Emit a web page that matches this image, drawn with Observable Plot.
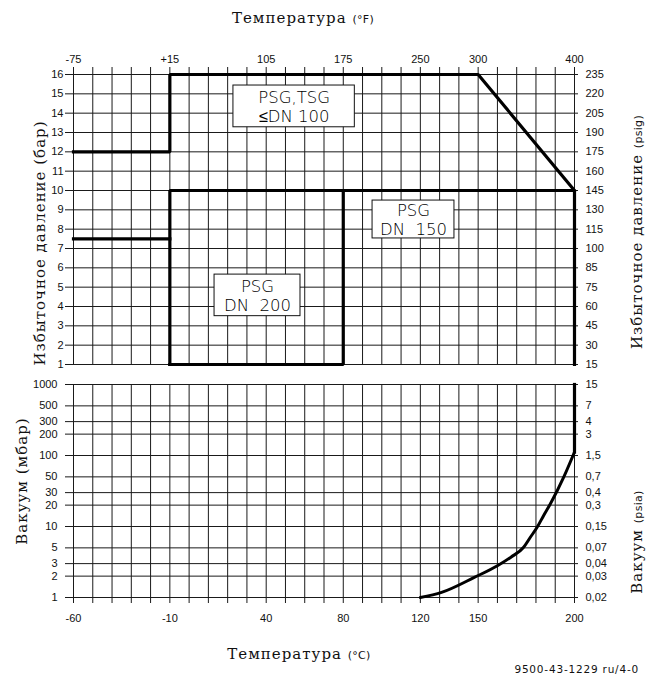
<!DOCTYPE html>
<html>
<head>
<meta charset="utf-8">
<script src="https://cdn.jsdelivr.net/npm/d3@7"></script>
<script src="https://cdn.jsdelivr.net/npm/@observablehq/plot@0.6"></script>
<style>
  html, body { margin: 0; padding: 0; background: #fff; }
  #wrap { position: relative; width: 647px; height: 677px; overflow: hidden; background: #fff; }
  #wrap svg { position: absolute; left: 0; }
  .ttl { position: absolute; white-space: nowrap; font-family: "DejaVu Serif", serif; font-size: 15px; color: #111; letter-spacing: 1px; }
  .ttl .u { font-family: "DejaVu Sans", sans-serif; font-size: 11px; letter-spacing: 0.3px; }
  .rot { transform: translate(-50%, -50%) rotate(-90deg); }
  .hor { transform: translate(-50%, -50%); }
  #code { position: absolute; right: 8px; top: 663px; line-height: 12px; font-family: "DejaVu Sans", sans-serif; font-size: 10.5px; letter-spacing: 0.8px; color: #111; }
</style>
</head>
<body>
<div id="wrap">
  <div class="ttl hor" style="left:303px; top:18px;">Температура <span class="u">(°F)</span></div>
  <div class="ttl hor" style="left:299px; top:654px;">Температура <span class="u">(°C)</span></div>
  <div class="ttl rot" style="left:40px; top:243px;">Избыточное давление (бар)</div>
  <div class="ttl rot" style="left:637px; top:232px;">Избыточное давление <span class="u">(psig)</span></div>
  <div class="ttl rot" style="left:22px; top:481px;">Вакуум (мбар)</div>
  <div class="ttl rot" style="left:637px; top:542px;">Вакуум <span class="u">(psia)</span></div>
  <div id="code">9500-43-1229 ru/4-0</div>
</div>
<script>
// ---- data ----
const gridTempsC = [-60,-50,-40,-30,-20,-10,0,10,20,30,40,50,60,70,80,90,100,110,120,130,140,150,160,170,180,190,200];
const cLabelTemps = [-60,-10,40,80,120,150,200];
const cLabels = ["-60","-10","40","80","120","150","200"];
const fLabelTemps = [-60,-10,40,80,120,150,200];
const fLabels = ["-75","+15","105","175","250","300","400"];

const barTicks = [1,2,3,4,5,6,7,8,9,10,11,12,13,14,15,16];
const psigLabels = ["15","30","45","60","75","85","100","115","130","145","160","175","190","205","220","235"];

const mbarTicks = [1,2,3,5,10,20,30,50,100,200,300,500,1000];
const mbarLabels = ["1","2","3","5","10","20","30","50","100","200","300","500","1000"];
const psiaLabels = ["0,02","0,03","0,04","0,07","0,15","0,3","0,4","0,7","1,5","3","4","7","15"];

// limit lines (°C, bar)
const dn100Temp = [-60,-10,-10,150,200];
const dn100Bar  = [12,12,16,16,10];
const lowTemp   = [-60,-10];
const lowBar    = [7.5,7.5];
const dn150Temp = [-10,-10,200,200];
const dn150Bar  = [1,10,10,1];
const dn200Temp = [-10,80,80];
const dn200Bar  = [1,1,10];

// vacuum limit (°C, mbar)
const vacTemp = [120,131,148,160,167,173.6,177,180.6,184,187.5,194.4,200];
const vacMbar = [1,1.18,1.92,2.8,3.7,5.1,7,9.75,14.3,20.9,49.5,112];
const vacWallTemp = [200,200];
const vacWallMbar = [112,1000];

// label boxes (data units)
const boxText = ["PSG,TSG\n≤DN 100", "PSG\nDN  150", "PSG\nDN  200"];
const boxX1 = [23, 95.2, 13.2];
const boxX2 = [86, 137.7, 57.8];
const boxY1 = [13.27, 7.52, 3.5];
const boxY2 = [15.43, 9.48, 5.65];

// ---- build ----
const toXY = (xs, ys) => xs.map((x, i) => ({x, y: ys[i]}));
const boxes = boxText.map((t, i) => ({t, x1: boxX1[i], x2: boxX2[i], y1: boxY1[i], y2: boxY2[i]}));

const gridColor = "#1a1a1a";
const tickFont = "'Liberation Sans', Arial, sans-serif";
const heavy = {stroke: "#000", strokeWidth: 3.2, strokeLinejoin: "miter", strokeLinecap: "square"};

const fMap = new Map(fLabelTemps.map((d, i) => [d, fLabels[i]]));
const cMap = new Map(cLabelTemps.map((d, i) => [d, cLabels[i]]));

const topChart = Plot.plot({
  width: 647, height: 380,
  marginTop: 74, marginBottom: 16, marginLeft: 73, marginRight: 73,
  x: {domain: [-60, 200]},
  y: {domain: [1, 16]},
  style: {fontFamily: tickFont, fontSize: "11px", color: "#111", background: "transparent", overflow: "visible"},
  marks: [
    Plot.ruleX(gridTempsC, {y1: 1, y2: 16, stroke: gridColor, strokeWidth: 1}),
    Plot.ruleY(barTicks, {x1: -60, x2: 200, stroke: gridColor, strokeWidth: 1}),
    Plot.axisX(gridTempsC, {anchor: "top", tickSize: 8, tickPadding: 4, tickFormat: d => fMap.get(d) ?? "", stroke: gridColor, label: null}),
    Plot.axisY(barTicks, {anchor: "left", tickSize: 8, tickPadding: 2, stroke: gridColor, label: null, tickFormat: d => String(d)}),
    Plot.axisY(barTicks, {anchor: "right", tickSize: 3, tickPadding: 8, stroke: gridColor, label: null, tickFormat: d => psigLabels[barTicks.indexOf(d)]}),
    Plot.line(toXY(dn100Temp, dn100Bar), {x: "x", y: "y", ...heavy}),
    Plot.line(toXY(lowTemp, lowBar), {x: "x", y: "y", ...heavy}),
    Plot.line(toXY(dn150Temp, dn150Bar), {x: "x", y: "y", ...heavy}),
    Plot.line(toXY(dn200Temp, dn200Bar), {x: "x", y: "y", ...heavy}),
    Plot.rect(boxes, {x1: "x1", x2: "x2", y1: "y1", y2: "y2", fill: "#fff", stroke: "#111", strokeWidth: 1}),
    Plot.text(boxes, {x: d => (d.x1 + d.x2) / 2, y: d => (d.y1 + d.y2) / 2, text: "t", fontSize: 16.5, lineHeight: 1.15, fill: "#000", fontFamily: "'DejaVu Sans', sans-serif", fontWeight: 200})
  ]
});
topChart.style.top = "0px";

const bottomChart = Plot.plot({
  width: 647, height: 270,
  marginTop: 14, marginBottom: 43, marginLeft: 73, marginRight: 73,
  x: {domain: [-60, 200]},
  y: {type: "log", domain: [1, 1000]},
  style: {fontFamily: tickFont, fontSize: "11px", color: "#111", background: "transparent", overflow: "visible"},
  marks: [
    Plot.ruleX(gridTempsC, {y1: 1, y2: 1000, stroke: gridColor, strokeWidth: 1}),
    Plot.ruleY(mbarTicks, {x1: -60, x2: 200, stroke: gridColor, strokeWidth: 1}),
    Plot.axisX(gridTempsC, {anchor: "bottom", tickSize: 6, tickPadding: 11, tickFormat: d => cMap.get(d) ?? "", stroke: gridColor, label: null}),
    Plot.axisY(mbarTicks, {anchor: "left", tickSize: 8, stroke: gridColor, label: null, tickFormat: () => ""}),
    Plot.axisY(mbarTicks, {anchor: "right", tickSize: 3, stroke: gridColor, label: null, tickFormat: () => ""}),
    Plot.text(mbarTicks, {y: d => d, text: d => mbarLabels[mbarTicks.indexOf(d)], frameAnchor: "left", textAnchor: "end", dx: -16, fill: "#111"}),
    Plot.text(mbarTicks, {y: d => d, text: d => psiaLabels[mbarTicks.indexOf(d)], frameAnchor: "right", textAnchor: "start", dx: 11, fill: "#111"}),
    Plot.line(toXY(vacTemp, vacMbar), {x: "x", y: "y", curve: "monotone-x", stroke: "#000", strokeWidth: 3}),
    Plot.line(toXY(vacWallTemp, vacWallMbar), {x: "x", y: "y", ...heavy})
  ]
});
bottomChart.style.top = "370px";

const wrap = document.getElementById("wrap");
wrap.insertBefore(topChart, wrap.firstChild);
wrap.insertBefore(bottomChart, wrap.firstChild);
</script>
</body>
</html>
